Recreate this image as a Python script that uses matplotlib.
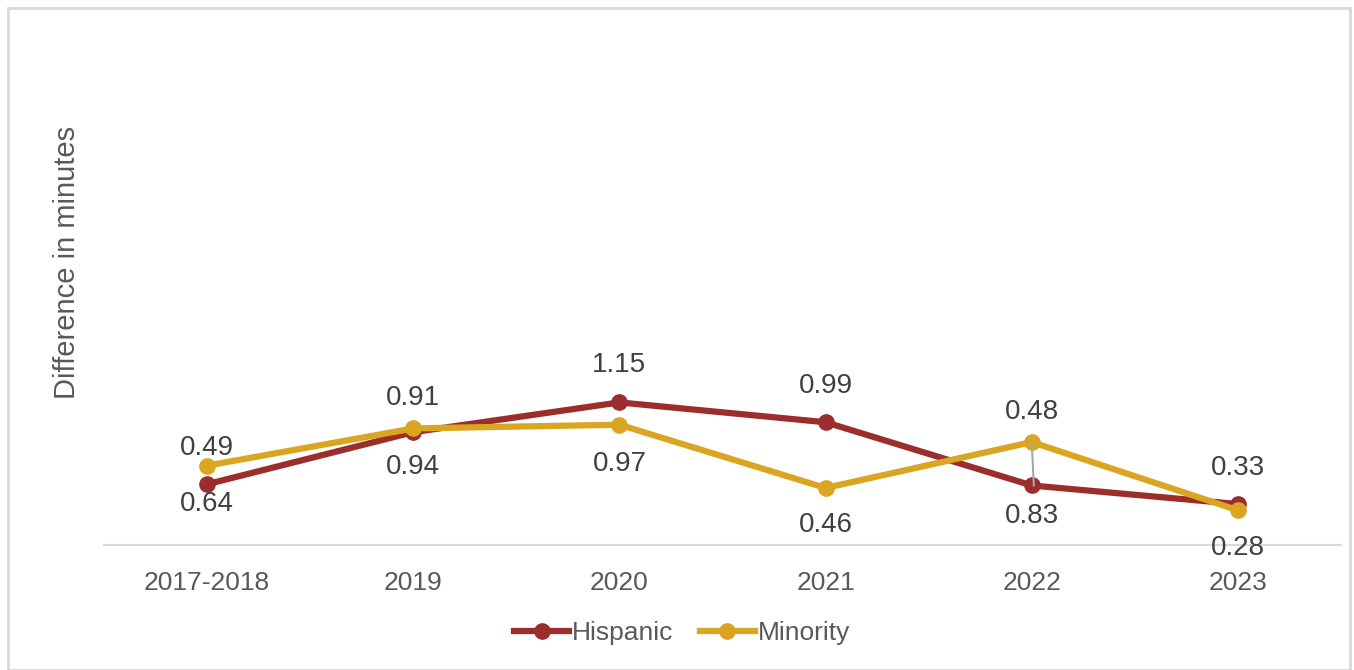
import matplotlib
matplotlib.use("Agg")
import matplotlib.pyplot as plt
from matplotlib.patches import Rectangle
from matplotlib import font_manager

# data
years = ['2017-2018', '2019', '2020', '2021', '2022', '2023']
hispanic = [0.49, 0.91, 1.15, 0.99, 0.48, 0.33]
minority = [0.64, 0.94, 0.97, 0.46, 0.83, 0.28]

# label offsets in pixels (dx, dy) from each point
hisp_off = [(0, 36), (0, 34), (0, 37), (0, 36), (0, 73), (0, 36)]
min_off = [(0, -38), (0, -39), (0, -39), (0, -37), (0, -74), (0, -38)]

RED = '#9B2D2D'
GOLD = '#DAA520'
TXT = '#404040'

names = {f.name for f in font_manager.fontManager.ttflist}
fam = ['Liberation Sans Narrow', 'Liberation Sans', 'DejaVu Sans']
fam = [f for f in fam if f in names] + ['DejaVu Sans']
plt.rcParams['font.family'] = fam

fig = plt.figure(figsize=(13.54, 6.70), dpi=100)
W, H = 1354, 670
ax = fig.add_axes([104 / W, 1 - 545 / H, (1341 - 104) / W, (545 - 49) / H])

x = list(range(len(years)))
ax.plot(x, hispanic, color=RED, lw=4.5, marker='o', ms=11, label='Hispanic', zorder=3)
ax.plot(x, minority, color=GOLD, lw=4.5, marker='o', ms=11, label='Minority', zorder=4)

# leader line for the 2022 label
ax.plot([4, 4.01], [0.83, 0.48], color='#A6A6A6', lw=1.5, zorder=5)

for i in x:
    ax.annotate(f'{hispanic[i]:.2f}', (i, hispanic[i]), xytext=hisp_off[i],
                textcoords='offset pixels', ha='center', va='center',
                fontsize=20, color=TXT)
    ax.annotate(f'{minority[i]:.2f}', (i, minority[i]), xytext=min_off[i],
                textcoords='offset pixels', ha='center', va='center',
                fontsize=20, color=TXT)

ax.set_xlim(-0.5, 5.5)
ax.set_ylim(0, 4)
ax.set_xticks(x)
ax.set_xticklabels(years, fontsize=19, color='#595959')
ax.tick_params(axis='x', length=0, pad=19)
ax.set_yticks([])
for s in ['top', 'right', 'left']:
    ax.spines[s].set_visible(False)
ax.spines['bottom'].set_color('#D9D9D9')
ax.spines['bottom'].set_linewidth(1.5)

fig.text(67 / W, 1 - 262 / H, 'Difference in minutes', rotation=90,
         ha='center', va='center', fontsize=21, color='#595959')

fig.legend(loc='center', bbox_to_anchor=(682 / W, 1 - 633 / H), ncol=2,
           frameon=False, fontsize=19, handlelength=2.1, handletextpad=0.1,
           columnspacing=1.0, labelcolor='#595959')

fig.patches.append(Rectangle((8 / W, 0), (1350 - 8) / W, 1 - 8 / H,
                             transform=fig.transFigure, fill=False,
                             edgecolor='#D9D9D9', lw=2))

fig.savefig('out.png', dpi=100)
